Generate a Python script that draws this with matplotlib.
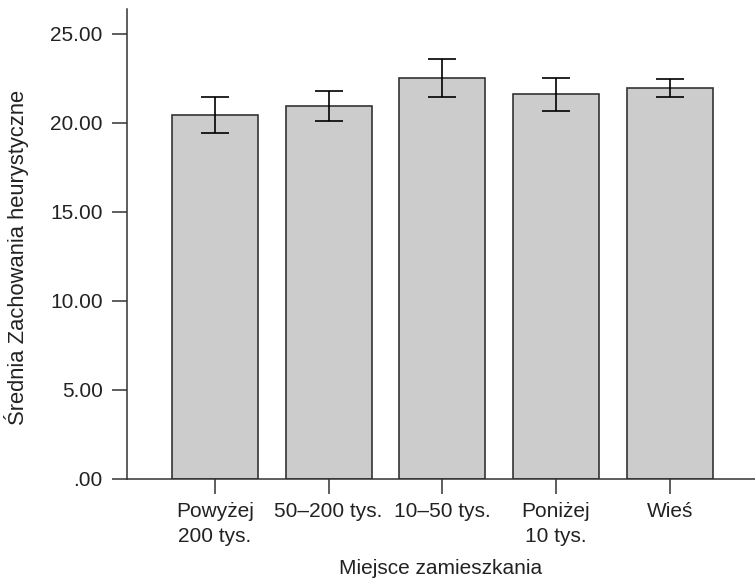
import matplotlib
matplotlib.use("Agg")
import matplotlib.pyplot as plt
from matplotlib.ticker import FuncFormatter

categories = ["Powyżej\n200 tys.", "50–200 tys.", "10–50 tys.", "Poniżej\n10 tys.", "Wieś"]
means = [20.45, 20.96, 22.53, 21.61, 21.97]
errors = [1.02, 0.86, 1.07, 0.93, 0.49]
yticks = [0, 5, 10, 15, 20, 25]

plt.rcParams["font.family"] = ["Liberation Sans", "DejaVu Sans"]
EDGE = "#333333"
TXT = "#222222"
FS = 15

fig = plt.figure(figsize=(7.55, 5.82), dpi=100)
ax = fig.add_axes([0.168, 0.1775, 0.832, 0.807])

x = list(range(len(categories)))
ax.bar(x, means, width=0.756, color="#cccccc", edgecolor=EDGE, linewidth=1.2, zorder=2)
ax.errorbar(x, means, yerr=errors, fmt="none", ecolor="black", elinewidth=1.2,
            capsize=10, capthick=1.2, zorder=3)

ax.set_xlim(-0.774, 4.75)
ax.set_ylim(0, 26.4)
ax.set_xticks(x)
ax.set_xticklabels(categories, fontsize=FS, linespacing=1.35, color=TXT)
ax.set_yticks(yticks)
ax.yaxis.set_major_formatter(FuncFormatter(lambda v, _: ".00" if v == 0 else f"{v:.2f}"))
ax.tick_params(axis="y", labelsize=FS, labelcolor=TXT, length=11, width=1.1, color=EDGE, pad=6.5)
ax.tick_params(axis="x", length=11, width=1.1, color=EDGE, pad=6)

for s in ("top", "right"):
    ax.spines[s].set_visible(False)
for s in ("left", "bottom"):
    ax.spines[s].set_color(EDGE)
    ax.spines[s].set_linewidth(1.1)

ax.set_xlabel("Miejsce zamieszkania", fontsize=FS, color=TXT, labelpad=10)
ax.set_ylabel("Średnia Zachowania heurystyczne", fontsize=15.8, color=TXT, labelpad=15, y=0.472)

fig.savefig("out.png", dpi=100)
